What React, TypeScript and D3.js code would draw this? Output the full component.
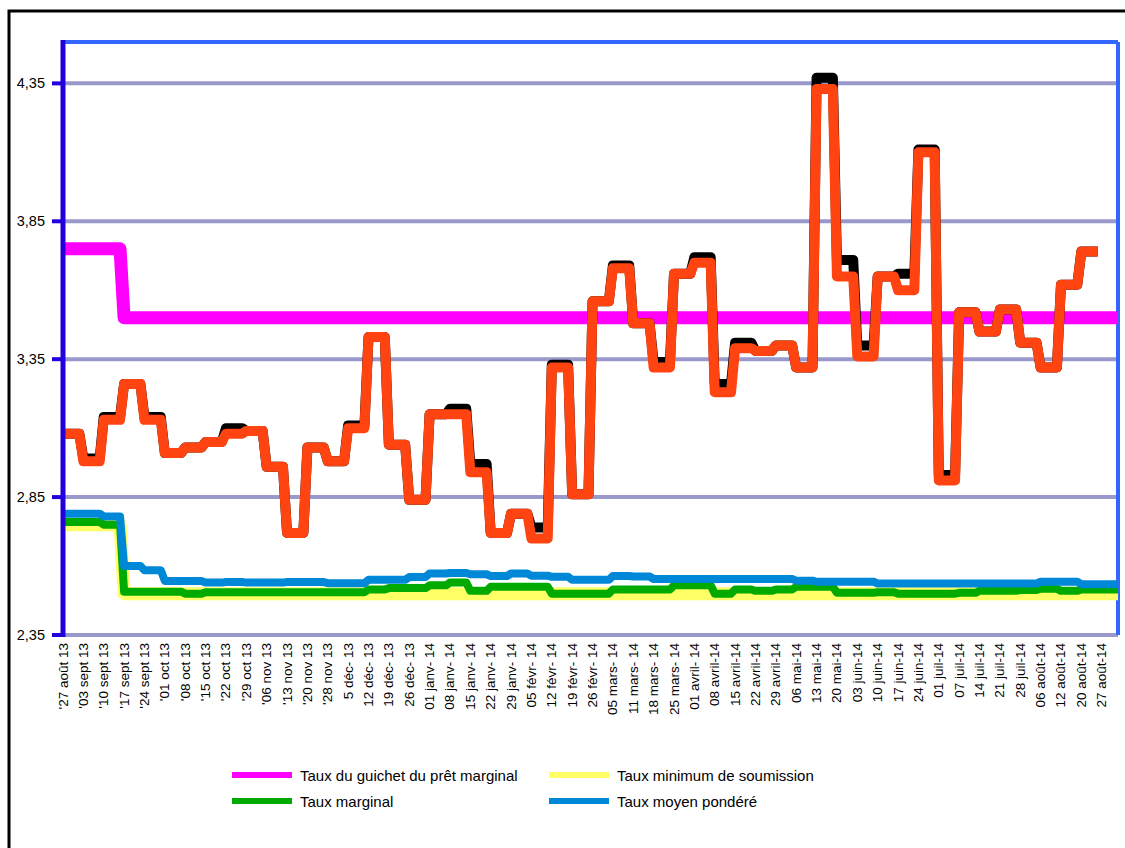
import * as d3 from 'd3';

// week labels (one every 5 daily points)
const weekLabels = [
  "'27 août 13", "'03 sept 13", "'10 sept 13", "'17 sept 13", "'24 sept 13", "'01 oct 13",
  "'08 oct 13", "'15 oct 13", "'22 oct 13", "'29 oct 13", "'06 nov 13", "'13 nov 13",
  "'20 nov 13", "'28 nov 13", '5 déc- 13', '12 déc- 13', '19 déc- 13', '26 déc- 13',
  '01 janv- 14', '08 janv- 14', '15 janv- 14', '22 janv- 14', '29 janv- 14', '05 févr- 14',
  '12 févr- 14', '19 févr- 14', '26 févr- 14', '05 mars- 14', '11 mars- 14', '18 mars- 14',
  '25 mars- 14', '01 avril- 14', '08 avril-14', '15 avril-14', '22 avril-14', '29 avril-14',
  '06 mai-14', '13 mai-14', '20 mai-14', '03 juin-14', '10 juin-14', '17 juin-14',
  '24 juin-14', '01 juil-14', '07 juil-14', '14 juil-14', '21 juil-14', '28 juil-14',
  '06 août-14', '12 août-14', '20 août-14', '27 août-14'
];

const yTicks = [2.35, 2.85, 3.35, 3.85, 4.35];

// weekly values
const guichetPretMarginal = [
  3.75, 3.75, 3.75, 3.5, 3.5, 3.5, 3.5, 3.5, 3.5, 3.5, 3.5, 3.5, 3.5, 3.5, 3.5, 3.5, 3.5, 3.5,
  3.5, 3.5, 3.5, 3.5, 3.5, 3.5, 3.5, 3.5, 3.5, 3.5, 3.5, 3.5, 3.5, 3.5, 3.5, 3.5, 3.5, 3.5,
  3.5, 3.5, 3.5, 3.5, 3.5, 3.5, 3.5, 3.5, 3.5, 3.5, 3.5, 3.5, 3.5, 3.5, 3.5, 3.5
];

const tauxMinimum = [
  2.75, 2.75, 2.75, 2.5, 2.5, 2.5, 2.5, 2.5, 2.5, 2.5, 2.5, 2.5, 2.5, 2.5, 2.5, 2.5, 2.5, 2.5,
  2.5, 2.5, 2.5, 2.5, 2.5, 2.5, 2.5, 2.5, 2.5, 2.5, 2.5, 2.5, 2.5, 2.5, 2.5, 2.5, 2.5, 2.5,
  2.5, 2.5, 2.5, 2.5, 2.5, 2.5, 2.5, 2.5, 2.5, 2.5, 2.5, 2.5, 2.5, 2.5, 2.5, 2.5
];

const tauxMarginal = [
  2.76, 2.76, 2.75, 2.507, 2.507, 2.507, 2.5, 2.505, 2.505, 2.505, 2.505, 2.505, 2.505,
  2.505, 2.505, 2.515, 2.52, 2.52, 2.53, 2.54, 2.51, 2.525, 2.525, 2.525, 2.5, 2.5, 2.5,
  2.515, 2.515, 2.515, 2.53, 2.53, 2.5, 2.515, 2.51, 2.515, 2.525, 2.525, 2.503, 2.503,
  2.505, 2.5, 2.5, 2.5, 2.503, 2.51, 2.51, 2.513, 2.518, 2.51, 2.515, 2.515
];

const tauxMoyen = [
  2.79, 2.79, 2.78, 2.6, 2.585, 2.546, 2.546, 2.54, 2.542, 2.54, 2.54, 2.542, 2.542, 2.538,
  2.538, 2.55, 2.55, 2.56, 2.573, 2.575, 2.57, 2.564, 2.573, 2.565, 2.561, 2.55, 2.55,
  2.564, 2.562, 2.553, 2.553, 2.553, 2.553, 2.553, 2.553, 2.553, 2.547, 2.543, 2.543,
  2.543, 2.537, 2.537, 2.537, 2.537, 2.537, 2.537, 2.537, 2.537, 2.543, 2.543, 2.534, 2.534
];

// the two unlabelled series (black under red)
const serieNoire = [
  3.08, 2.99, 3.14, 3.26, 3.14, 3.01, 3.03, 3.05, 3.1, 3.09, 2.96, 2.72, 3.03, 2.98, 3.11,
  3.43, 3.04, 2.84, 3.15, 3.17, 2.97, 2.72, 2.79, 2.74, 3.33, 2.86, 3.56, 3.69, 3.48, 3.34,
  3.66, 3.72, 3.26, 3.41, 3.38, 3.4, 3.32, 4.37, 3.71, 3.4, 3.65, 3.66, 4.11, 2.93, 3.52,
  3.45, 3.53, 3.41, 3.32, 3.62, 3.74
];

const serieRouge = [
  3.08, 2.98, 3.13, 3.26, 3.13, 3.01, 3.03, 3.05, 3.08, 3.09, 2.96, 2.72, 3.03, 2.98, 3.1,
  3.43, 3.04, 2.84, 3.15, 3.15, 2.94, 2.72, 2.79, 2.7, 3.32, 2.86, 3.56, 3.68, 3.48, 3.32,
  3.66, 3.7, 3.23, 3.39, 3.38, 3.4, 3.32, 4.33, 3.65, 3.36, 3.65, 3.6, 4.1, 2.91, 3.52,
  3.45, 3.53, 3.41, 3.32, 3.62, 3.74
];

const legendItems = [
  { label: 'Taux du guichet du prêt marginal', color: '#ff00ff', col: 0, row: 0 },
  { label: 'Taux minimum de soumission', color: '#ffff66', col: 1, row: 0 },
  { label: 'Taux marginal', color: '#00aa00', col: 0, row: 1 },
  { label: 'Taux moyen pondéré', color: '#0088d8', col: 1, row: 1 }
];

const PER_WEEK = 5;
const TOTAL_DAYS = 260;

// each weekly value held for 5 daily points
const toDaily = (weekly: number[], days: number) =>
  d3.range(days).map(d => weekly[Math.floor(d / PER_WEEK)]);

const font = 'Liberation Sans, Arial, sans-serif';

const App = () => {
  const width = 1125;
  const height = 848;
  const left = 63;
  const right = 1118;
  const top = 42;
  const bottom = 635;

  const x = d3.scaleLinear().domain([0, TOTAL_DAYS - 1]).range([left, right]);
  const y = d3.scaleLinear().domain([2.35, 4.5]).range([bottom, top]);

  const fmt = d3
    .formatLocale({ decimal: ',', thousands: ' ', grouping: [3], currency: ['', ''] })
    .format('.2f');

  const line = d3
    .line<number>()
    .x((_, i) => x(i))
    .y(v => y(v));

  const series = [
    { data: toDaily(guichetPretMarginal, TOTAL_DAYS), color: '#ff00ff', w: 13 },
    { data: toDaily(tauxMinimum, TOTAL_DAYS), color: '#ffff66', w: 13 },
    { data: toDaily(tauxMarginal, TOTAL_DAYS), color: '#00aa00', w: 8 },
    { data: toDaily(tauxMoyen, TOTAL_DAYS), color: '#0088d8', w: 8 },
    { data: toDaily(serieNoire, serieNoire.length * PER_WEEK), color: '#000000', w: 10 },
    { data: toDaily(serieRouge, serieRouge.length * PER_WEEK), color: '#ff4411', w: 10 }
  ];

  return (
    <svg
      width={width}
      height={height}
      style={{ position: 'absolute', left: 0, top: 0 }}
      fontFamily={font}
    >
      <rect width={width} height={height} fill="#fff" />
      <rect x={9} y={11} width={1200} height={900} fill="none" stroke="#000" strokeWidth={3} />

      {/* gridlines */}
      {yTicks.map(t => (
        <line key={t} x1={left} x2={right} y1={y(t)} y2={y(t)} stroke="#9999cc" strokeWidth={4} />
      ))}
      {yTicks.map(t => (
        <line key={'t' + t} x1={52} x2={left} y1={y(t)} y2={y(t)} stroke="#2200dd" strokeWidth={4} />
      ))}
      <line x1={left} x2={right} y1={top} y2={top} stroke="#3366ff" strokeWidth={4} />
      <line x1={right} x2={right} y1={top} y2={bottom} stroke="#3366ff" strokeWidth={4} />

      {series.map((s, i) => (
        <path
          key={i}
          d={line(s.data) || ''}
          fill="none"
          stroke={s.color}
          strokeWidth={s.w}
          strokeLinejoin="round"
        />
      ))}

      <line x1={left} x2={left} y1={top - 2} y2={bottom + 2} stroke="#2200dd" strokeWidth={5} />

      {yTicks.map(t => (
        <text key={'l' + t} x={45} y={y(t)} textAnchor="end" dominantBaseline="central" fontSize={14.5}>
          {fmt(t)}
        </text>
      ))}

      {weekLabels.map((lab, i) => (
        <text
          key={lab}
          transform={`translate(${x(i * PER_WEEK)},643) rotate(-90)`}
          textAnchor="end"
          dominantBaseline="central"
          fontSize={13.5}
        >
          {lab}
        </text>
      ))}

      {legendItems.map(it => {
        const lx = it.col === 0 ? 232 : 549;
        const ly = it.row === 0 ? 775 : 801;
        return (
          <g key={it.label}>
            <line x1={lx} x2={lx + 60} y1={ly} y2={ly} stroke={it.color} strokeWidth={6} />
            <text x={lx + 68} y={ly} dominantBaseline="central" fontSize={15}>
              {it.label}
            </text>
          </g>
        );
      })}
    </svg>
  );
};

export default App;
